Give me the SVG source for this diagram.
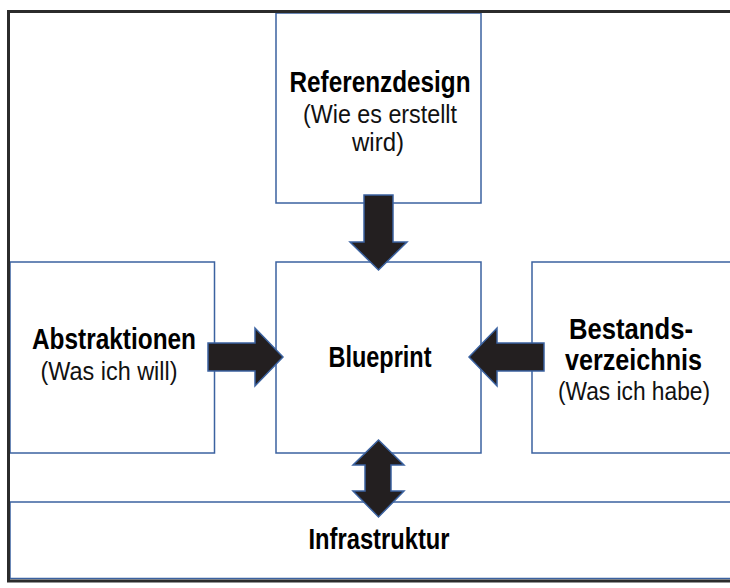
<svg xmlns="http://www.w3.org/2000/svg" width="730" height="588" viewBox="0 0 730 588">
<style>
.box{fill:#ffffff;stroke:#3b62a0;stroke-width:1.5}
.arrow{fill:#231f20;stroke:#3b62a0;stroke-width:1.5;stroke-linejoin:miter}
.b{font-family:"Liberation Sans",Arial,sans-serif;font-weight:bold;font-size:29.5px;fill:#000;text-anchor:middle}
.r{font-family:"Liberation Sans",Arial,sans-serif;font-size:25px;fill:#111;text-anchor:middle}
.frame{fill:none;stroke:#2b2b2b;stroke-width:3}
</style>
<rect width="730" height="588" fill="#ffffff"/>
<g id="infrastruktur">
<rect class="box" x="10" y="502" width="740" height="76.5"/>
<text class="b" x="379" y="548.5" textLength="141" lengthAdjust="spacingAndGlyphs">Infrastruktur</text>
</g>
<g id="referenzdesign">
<rect class="box" x="276" y="13" width="205" height="190"/>
<text class="b" x="380" y="92" textLength="181" lengthAdjust="spacingAndGlyphs">Referenzdesign</text>
<text class="r" x="380" y="123" textLength="154" lengthAdjust="spacingAndGlyphs">(Wie es erstellt</text>
<text class="r" x="378" y="151" textLength="52" lengthAdjust="spacingAndGlyphs">wird)</text>
</g>
<g id="abstraktionen">
<rect class="box" x="10" y="262" width="204.5" height="191"/>
<text class="b" x="114" y="349" textLength="164" lengthAdjust="spacingAndGlyphs">Abstraktionen</text>
<text class="r" x="109" y="380" textLength="137" lengthAdjust="spacingAndGlyphs">(Was ich will)</text>
</g>
<g id="blueprint">
<rect class="box" x="276" y="262" width="205" height="191"/>
<text class="b" x="380" y="366.5" textLength="103" lengthAdjust="spacingAndGlyphs">Blueprint</text>
</g>
<g id="bestandsverzeichnis">
<rect class="box" x="532" y="262" width="210" height="191"/>
<text class="b" x="631" y="339" textLength="124" lengthAdjust="spacingAndGlyphs">Bestands-</text>
<text class="b" x="633.5" y="370" textLength="137" lengthAdjust="spacingAndGlyphs">verzeichnis</text>
<text class="r" x="634" y="400" textLength="152" lengthAdjust="spacingAndGlyphs">(Was ich habe)</text>
</g>
<g id="connectors">
<polygon class="arrow" points="364,195 393,195 393,242 407,242 378.5,270 350,242 364,242"/>
<polygon class="arrow" points="208,343 255,343 255,328 283,357 255,386 255,371 208,371"/>
<polygon class="arrow" points="544,343 497,343 497,328 469,357 497,386 497,371 544,371"/>
<polygon class="arrow" points="378.5,440 404,465 391,465 391,491 404,491 378.5,517 353,491 365,491 365,465 353,465"/>
</g>
<rect class="frame" x="8.5" y="11.5" width="740" height="569.5"/>
</svg>
